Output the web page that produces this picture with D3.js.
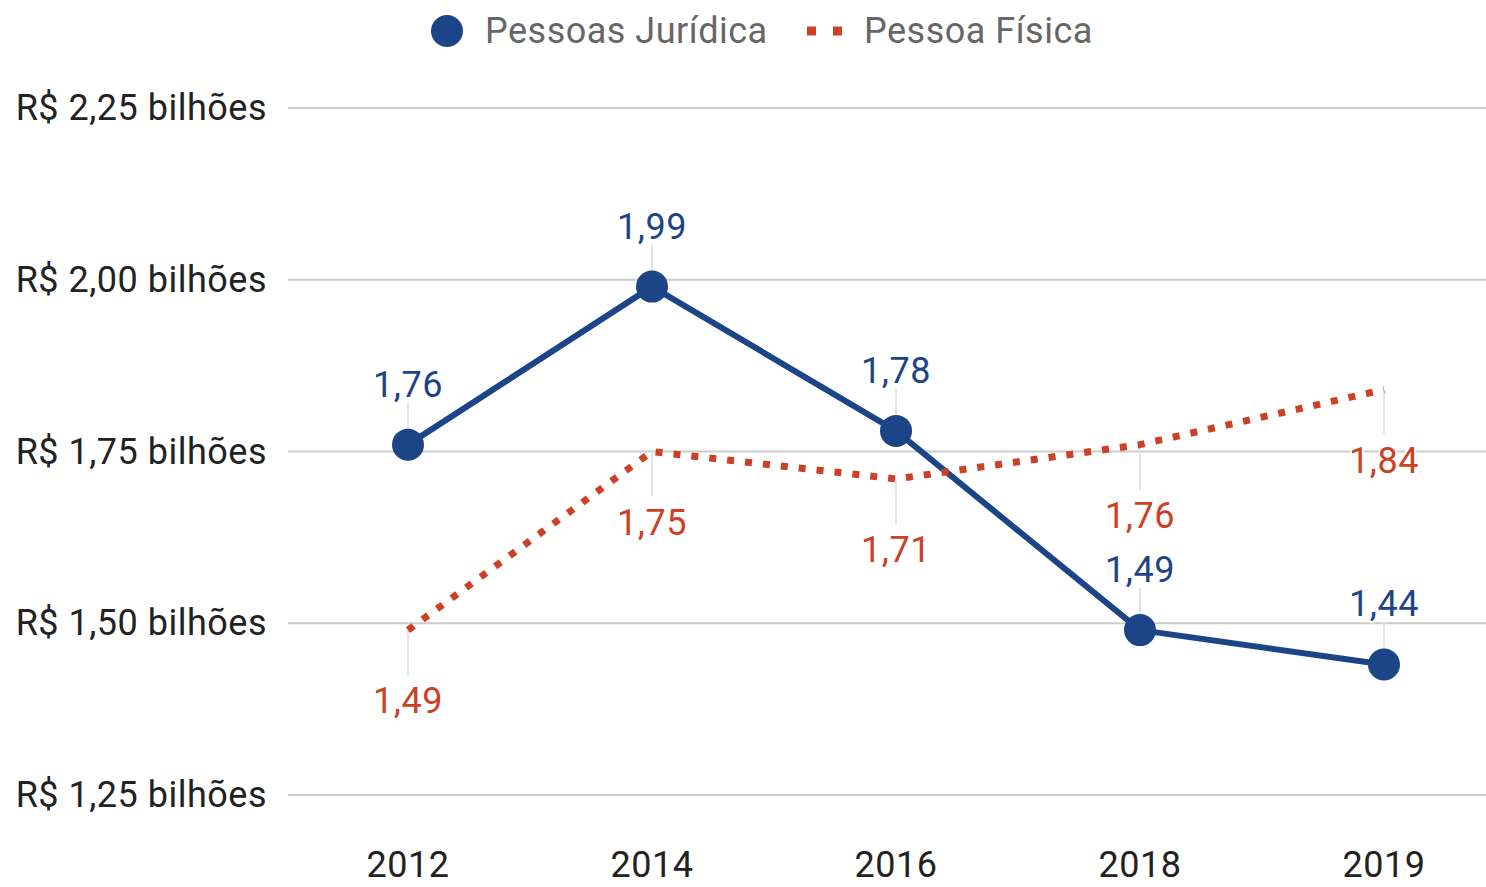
<!DOCTYPE html>
<html>
<head>
<meta charset="utf-8">
<script src="https://cdn.jsdelivr.net/npm/d3@7"></script>
<style>
  body { margin: 0; background: #fff; }
  svg { display: block; font-family: Roboto, "Noto Sans", sans-serif; letter-spacing: 0.5px; }
</style>
</head>
<body>
<div id="chart"></div>
<script>
const years = ['2012', '2014', '2016', '2018', '2019'];
const juridica = [1.76, 1.99, 1.78, 1.49, 1.44];
const fisica = [1.49, 1.75, 1.71, 1.76, 1.84];
const yTicks = [1.25, 1.5, 1.75, 2.0, 2.25];

const BLUE = '#1c4587';
const RED = '#cc4125';
const FS = 36;

const width = 1486;
const height = 887;

const svg = d3.select('#chart')
  .append('svg')
  .attr('width', width)
  .attr('height', height);

const x = d3.scalePoint()
  .domain(years)
  .range([408, 1384]);

const y = d3.scaleLinear()
  .domain([1.25, 2.25])
  .range([795, 108]);

const fmt = v => v.toFixed(2).replace('.', ',');

// Gridlines + y labels
const grid = svg.append('g');
grid.selectAll('line')
  .data(yTicks)
  .join('line')
  .attr('x1', 288)
  .attr('x2', width)
  .attr('y1', d => y(d))
  .attr('y2', d => y(d))
  .attr('stroke', '#cccccc')
  .attr('stroke-width', 2);

grid.selectAll('text')
  .data(yTicks)
  .join('text')
  .attr('x', 267)
  .attr('y', d => y(d) + 12)
  .attr('text-anchor', 'end')
  .attr('font-size', FS)
  .attr('fill', '#222')
  .text(d => `R$ ${fmt(d)} bilhões`);

// X labels
svg.append('g')
  .selectAll('text')
  .data(years)
  .join('text')
  .attr('x', d => x(d))
  .attr('y', 877)
  .attr('text-anchor', 'middle')
  .attr('font-size', FS)
  .attr('fill', '#222')
  .text(d => d);

// Leader lines
const leaders = svg.append('g')
  .attr('stroke', '#e4e4e4')
  .attr('stroke-width', 2);

leaders.selectAll('.lj')
  .data(juridica)
  .join('line')
  .attr('class', 'lj')
  .attr('x1', (d, i) => x(years[i]))
  .attr('x2', (d, i) => x(years[i]))
  .attr('y1', d => y(d) - 42)
  .attr('y2', d => y(d));

leaders.selectAll('.lf')
  .data(fisica)
  .join('line')
  .attr('class', 'lf')
  .attr('x1', (d, i) => x(years[i]))
  .attr('x2', (d, i) => x(years[i]))
  .attr('y1', d => y(d))
  .attr('y2', d => y(d) + 45);

const line = d3.line()
  .x((d, i) => x(years[i]))
  .y(d => y(d));

// Pessoas Jurídica
svg.append('path')
  .datum(juridica)
  .attr('d', line)
  .attr('fill', 'none')
  .attr('stroke', BLUE)
  .attr('stroke-width', 6)
  .attr('stroke-linejoin', 'round');

svg.append('g')
  .selectAll('circle')
  .data(juridica)
  .join('circle')
  .attr('cx', (d, i) => x(years[i]))
  .attr('cy', d => y(d))
  .attr('r', 16)
  .attr('fill', BLUE);

// Pessoa Física
svg.append('path')
  .datum(fisica)
  .attr('d', line)
  .attr('fill', 'none')
  .attr('stroke', RED)
  .attr('stroke-width', 7)
  .attr('stroke-dasharray', '7 11');

// Data labels
const labels = svg.append('g')
  .attr('font-size', FS)
  .attr('text-anchor', 'middle')
  .attr('stroke', '#fff')
  .attr('stroke-width', 4)
  .attr('paint-order', 'stroke')
  .attr('stroke-linejoin', 'round');

labels.selectAll('.tj')
  .data(juridica)
  .join('text')
  .attr('class', 'tj')
  .attr('x', (d, i) => x(years[i]))
  .attr('y', d => y(d) - 48)
  .attr('fill', BLUE)
  .text(fmt);

labels.selectAll('.tf')
  .data(fisica)
  .join('text')
  .attr('class', 'tf')
  .attr('x', (d, i) => x(years[i]))
  .attr('y', d => y(d) + 83)
  .attr('fill', RED)
  .text(fmt);

// Legend
const legend = svg.append('g').attr('font-size', FS).attr('fill', '#666');
legend.append('circle')
  .attr('cx', 447).attr('cy', 31).attr('r', 16)
  .attr('fill', BLUE);
legend.append('text')
  .attr('x', 485).attr('y', 43)
  .text('Pessoas Jurídica');
legend.append('line')
  .attr('x1', 807).attr('x2', 842)
  .attr('y1', 31).attr('y2', 31)
  .attr('stroke', RED)
  .attr('stroke-width', 9)
  .attr('stroke-dasharray', '9 17');
legend.append('text')
  .attr('x', 864).attr('y', 43)
  .text('Pessoa Física');
</script>
</body>
</html>
